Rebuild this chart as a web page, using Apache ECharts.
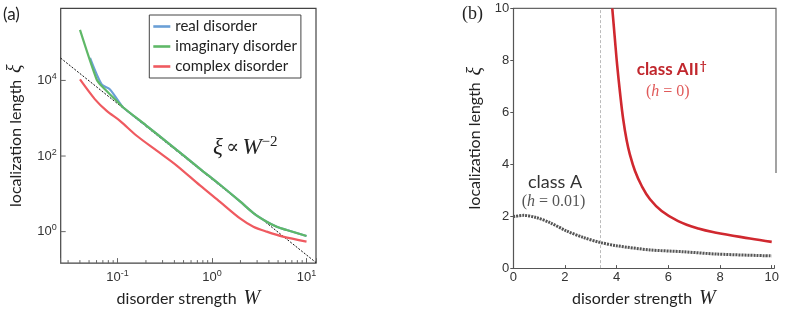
<!DOCTYPE html>
<html><head><meta charset="utf-8">
<script src="https://cdn.jsdelivr.net/npm/echarts@6/dist/echarts.min.js"></script>
<style>html,body{margin:0;padding:0;background:#fff}#c{width:785px;height:314px}</style>
</head><body><div id="c"></div>
<script>
// ---------- Panel (a): log-log ----------
const realW   = [0.0512, 0.068, 0.0833, 0.102, 0.115, 0.2, 0.36, 0.746, 1.216, 1.98, 2.74, 3.79, 4.84, 6.18, 10.0];
const realXi  = [39400, 7840, 5790, 2860, 1920, 650, 200, 46, 17.4, 6.3, 3.1, 1.83, 1.35, 1.10, 0.766];
const imagW   = [0.0401, 0.0602, 0.068, 0.0903, 0.115, 0.2, 0.36, 0.746, 1.216, 1.98, 2.74, 3.79, 4.84, 6.18, 10.0];
const imagXi  = [218000, 10600, 7080, 3510, 1920, 650, 200, 46, 17.4, 6.3, 3.1, 1.83, 1.35, 1.10, 0.766];
const complexW  = [0.0401, 0.0578, 0.0769, 0.1062, 0.1596, 0.26, 0.423, 0.746, 1.216, 1.98, 2.74, 3.79, 5.63, 10.0];
const complexXi = [10600, 3160, 1560, 853, 344, 139, 56.1, 16.7, 6.13, 2.24, 1.35, 1.0, 0.739, 0.546];
const powerLawW  = [0.02506, 12.6];
const powerLawXi = [38900, 0.152];
const xMinorTicksA = [0.03,0.04,0.05,0.06,0.07,0.08,0.09,0.2,0.3,0.4,0.5,0.6,0.7,0.8,0.9,2,3,4,5,6,7,8,9];
const yTicksA = [1, 100, 10000];
// ---------- Panel (b): linear ----------
const classAW  = [0, 0.4, 0.9, 1.42, 2.06, 2.71, 3.35, 4.0, 5.29, 6.58, 7.87, 10];
const classAXi = [1.98, 2.03, 1.94, 1.75, 1.43, 1.18, 0.99, 0.86, 0.70, 0.63, 0.54, 0.47];
const classAIIW  = [3.83, 3.92, 4.02, 4.13, 4.25, 4.39, 4.51, 4.71, 4.97, 5.29, 5.74, 6.38, 7.16, 7.80, 9.16, 10.0];
const classAIIXi = [10, 8.95, 7.8, 6.75, 5.75, 4.9, 4.38, 3.74, 3.16, 2.65, 2.20, 1.81, 1.52, 1.37, 1.14, 1.01];
const transitionW = [3.38];

const zip = (a, b) => a.map((v, i) => [v, b[i]]);
const SANS = 'Lato';
const TICKF = 'Liberation Sans';
const SERIF = 'Liberation Serif';

function logLabel(onlyEven) {
  return function (v) {
    const e = Math.log10(v), r = Math.round(e);
    if (Math.abs(e - r) > 1e-6) return '';
    if (onlyEven && r % 2 !== 0) return '';
    return '{b|10}{s|' + (r < 0 ? '-' + (-r) : r) + '}';
  };
}
const logRich = {
  b: {fontSize: 13, fontFamily: TICKF, color: '#333'},
  s: {fontSize: 9, fontFamily: TICKF, color: '#333', padding: [0, 0, 8, 0]}
};
const nameRich = {
  t: {fontSize: 16, fontFamily: SANS, color: '#222'},
  m: {fontSize: 20, fontFamily: SERIF, fontStyle: 'italic', color: '#222'}
};

const chart = echarts.init(document.getElementById('c'), null, {renderer: 'canvas'});
chart.setOption({
  animation: false,
  backgroundColor: '#fff',
  grid: [
    {left: 60.7, top: 8.3, width: 255.3, height: 256.7, show: true, borderColor: '#444', borderWidth: 1.2, backgroundColor: 'transparent'},
    {left: 513.3, top: 8.3, width: 261, height: 260.7}
  ],
  xAxis: [
    {type: 'log', gridIndex: 0, min: 0.02506, max: 12.6,
     axisLine: {show: false}, splitLine: {show: false},
     axisTick: {show: true, inside: true, length: 5, lineStyle: {color: '#666'}},
     axisLabel: {formatter: logLabel(false), rich: logRich, margin: 6},
     name: '{t|disorder strength}  {m|W}', nameLocation: 'middle', nameGap: 19,
     nameTextStyle: {rich: nameRich}},
    {type: 'value', gridIndex: 1, min: 0, max: 10.1, interval: 2,
     axisLine: {show: true, lineStyle: {color: '#555', width: 1.2}}, splitLine: {show: false},
     axisTick: {show: true, inside: true, length: 3, lineStyle: {color: '#555'}},
     axisLabel: {formatter: v => Number.isInteger(v) ? String(v) : '', margin: 3, fontSize: 13, fontFamily: TICKF, color: '#333'},
     name: '{t|disorder strength}  {m|W}', nameLocation: 'middle', nameGap: 19,
     nameTextStyle: {rich: nameRich}}
  ],
  yAxis: [
    {type: 'log', gridIndex: 0, min: 0.147, max: 810000,
     axisLine: {show: false}, splitLine: {show: false}, axisTick: {show: false},
     axisLabel: {formatter: logLabel(true), rich: logRich, margin: 4},
     name: '{t|localization length}  {m|ξ}', nameLocation: 'middle', nameRotate: 90, nameGap: 35,
     nameTextStyle: {rich: nameRich}},
    {type: 'value', gridIndex: 1, min: 0, max: 10, interval: 2,
     axisLine: {show: true, lineStyle: {color: '#555', width: 1.2}}, splitLine: {show: false},
     axisTick: {show: true, inside: false, length: 3, lineStyle: {color: '#555'}},
     axisLabel: {margin: 4, fontSize: 13, fontFamily: TICKF, color: '#333'},
     name: '{t|localization length}  {m|ξ}', nameLocation: 'middle', nameRotate: 90, nameGap: 28,
     nameTextStyle: {rich: nameRich}}
  ],
  legend: {
    data: ['real disorder', 'imaginary disorder', 'complex disorder'],
    orient: 'vertical', left: 149.3, top: 15,
    icon: 'rect', itemWidth: 17, itemHeight: 2.6, itemGap: 5, padding: [4, 4, 4, 4],
    borderColor: '#444', borderWidth: 1, backgroundColor: '#fff',
    selectedMode: false,
    textStyle: {fontFamily: SANS, fontSize: 15, lineHeight: 15, color: '#222'}
  },
  series: [
    {name: 'real disorder', type: 'line', xAxisIndex: 0, yAxisIndex: 0, data: zip(realW, realXi),
     symbol: 'none', smooth: 0.25, color: '#6a9fd6', lineStyle: {width: 2.2}, z: 3},
    {name: 'imaginary disorder', type: 'line', xAxisIndex: 0, yAxisIndex: 0, data: zip(imagW, imagXi),
     symbol: 'none', smooth: 0.25, color: '#5fb867', lineStyle: {width: 2.2}, z: 4},
    {name: 'complex disorder', type: 'line', xAxisIndex: 0, yAxisIndex: 0, data: zip(complexW, complexXi),
     symbol: 'none', smooth: 0.3, color: '#ef5a60', lineStyle: {width: 2.2}, z: 4},
    {name: 'power law', type: 'line', xAxisIndex: 0, yAxisIndex: 0, data: zip(powerLawW, powerLawXi),
     symbol: 'none', color: '#111', lineStyle: {width: 1, type: [2, 1.5]}, z: 2},
    {name: 'xminor', type: 'custom', xAxisIndex: 0, yAxisIndex: 0, silent: true, z: 6,
     data: xMinorTicksA.map(w => [w, 1]),
     renderItem: function (params, api) {
       const cs = params.coordSys;
       const px = api.coord([api.value(0), api.value(1)])[0];
       const yb = cs.y + cs.height;
       return {type: 'line', shape: {x1: px, y1: yb, x2: px, y2: yb - 3}, style: {stroke: '#666', lineWidth: 1}};
     }},
    {name: 'yticks', type: 'custom', xAxisIndex: 0, yAxisIndex: 0, silent: true, z: 6,
     data: yTicksA.map(v => [1, v]),
     renderItem: function (params, api) {
       const cs = params.coordSys;
       const py = api.coord([api.value(0), api.value(1)])[1];
       return {type: 'line', shape: {x1: cs.x, y1: py, x2: cs.x + 5, y2: py}, style: {stroke: '#666', lineWidth: 1}};
     }},
    {name: 'class A', type: 'line', xAxisIndex: 1, yAxisIndex: 1, data: zip(classAW, classAXi),
     symbol: 'none', smooth: 0.3, color: '#555', lineStyle: {width: 3, type: [2, 1]}, z: 3,
     markLine: {silent: true, symbol: 'none', label: {show: false},
       lineStyle: {color: '#bbb', width: 1, type: [3, 2]},
       data: transitionW.map(w => ({xAxis: w}))}},
    {name: 'class AII', type: 'line', xAxisIndex: 1, yAxisIndex: 1, data: zip(classAIIW, classAIIXi),
     symbol: 'none', smooth: 0.4, color: '#d0282f', lineStyle: {width: 2.6}, z: 4}
  ],
  graphic: [
    {type: 'text', left: 3, top: 6, style: {text: '(a)', fontFamily: SANS, fontSize: 17, fill: '#222'}},
    {type: 'text', left: 462, top: 5, style: {text: '(b)', fontFamily: SERIF, fontSize: 18, fill: '#222'}},
    {type: 'text', x: 213, y: 148, style: {
      text: '{i|ξ} {r|∝} {i|W}{s|−2}', verticalAlign: 'middle',
      rich: {i: {fontFamily: SERIF, fontStyle: 'italic', fontSize: 23, fill: '#222'},
             r: {fontFamily: 'DejaVu Serif', fontSize: 19, fill: '#222'},
             s: {fontFamily: SERIF, fontSize: 15, fill: '#222', padding: [0, 0, 12, 0]}}}},
    {type: 'text', x: 636.7, y: 70, style: {
      text: '{a|class AII}{d|†}', verticalAlign: 'middle',
      rich: {a: {fontFamily: SANS, fontWeight: 'bold', fontSize: 17, fill: '#c1272d'},
             d: {fontFamily: SANS, fontWeight: 'bold', fontSize: 12, fill: '#c1272d', padding: [0, 0, 8, 1]}}}},
    {type: 'text', x: 646, y: 91.7, style: {
      text: '{r|(}{i|h}{r| = 0)}', verticalAlign: 'middle',
      rich: {r: {fontFamily: SERIF, fontSize: 16, fill: '#e05a5a'},
             i: {fontFamily: SERIF, fontStyle: 'italic', fontSize: 16, fill: '#e05a5a'}}}},
    {type: 'text', x: 528, y: 182, style: {text: 'class A', verticalAlign: 'middle', fontFamily: SANS, fontSize: 18, fill: '#333'}},
    {type: 'text', x: 521.7, y: 201.7, style: {
      text: '{r|(}{i|h}{r| = 0.01)}', verticalAlign: 'middle',
      rich: {r: {fontFamily: SERIF, fontSize: 16, fill: '#555'},
             i: {fontFamily: SERIF, fontStyle: 'italic', fontSize: 16, fill: '#555'}}}},
    {type: 'polyline', shape: {points: [[513.3, 8.3], [776, 8.3], [776, 173]]}, style: {stroke: '#666', lineWidth: 1.2, fill: null}}
  ]
});
</script>
</body></html>
